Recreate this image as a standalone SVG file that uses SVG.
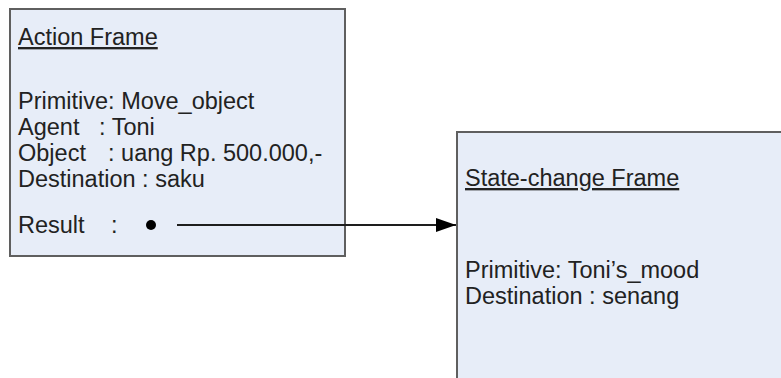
<svg xmlns="http://www.w3.org/2000/svg" width="781" height="378" viewBox="0 0 781 378">
<defs>
<style>
.frame{fill:#e7edf8;stroke:#5f5f5f;stroke-width:2}
.t{font-family:"Liberation Sans",Arial,sans-serif;font-size:23.5px;fill:#222}
.u{text-decoration:underline}
.conn{stroke:#1e1e1e;stroke-width:2;fill:none}
</style>
<marker id="arr" markerWidth="20" markerHeight="14" refX="20" refY="7" orient="auto" markerUnits="userSpaceOnUse">
<path d="M0,0 L20,7 L0,14 Z" fill="#000"/>
</marker>
</defs>
<rect x="0" y="0" width="781" height="378" fill="#fff"/>
<g id="action-frame">
<rect class="frame" x="10" y="9" width="335" height="247"/>
<text class="t u" x="18" y="45">Action Frame</text>
<text class="t" x="18" y="109">Primitive: Move_object</text>
<text class="t" x="18" y="135">Agent</text>
<text class="t" x="99" y="135">: Toni</text>
<text class="t" x="18" y="161">Object</text>
<text class="t" x="108" y="161">: uang Rp. 500.000,-</text>
<text class="t" x="18" y="187">Destination : saku</text>
<text class="t" x="18" y="233">Result</text>
<text class="t" x="111" y="233">:</text>
<circle cx="151" cy="225" r="5" fill="#000"/>
</g>
<g id="state-change-frame">
<rect class="frame" x="457" y="132" width="340" height="260"/>
<text class="t u" x="465" y="186">State-change Frame</text>
<text class="t" x="465" y="278">Primitive: Toni’s_mood</text>
<text class="t" x="465" y="304">Destination : senang</text>
</g>
<g id="connectors">
<line class="conn" x1="177" y1="225" x2="456" y2="225" marker-end="url(#arr)"/>
</g>
</svg>
